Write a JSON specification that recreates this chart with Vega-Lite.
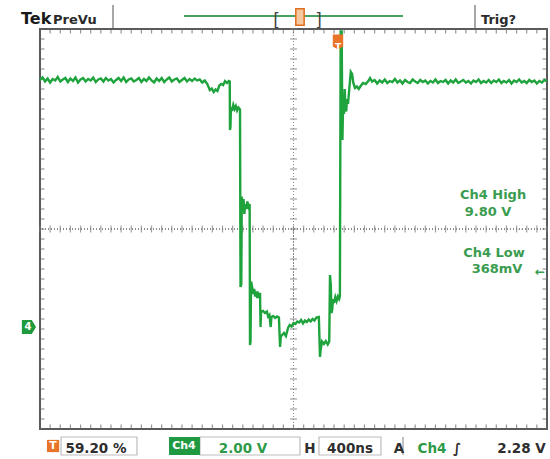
{
  "$schema": "https://vega.github.io/schema/vega-lite/v6.json",
  "width": 507,
  "height": 400,
  "autosize": {"type": "none"},
  "padding": {"left": 40, "top": 29, "right": 3, "bottom": 30},
  "background": "white",
  "config": {
    "view": {"stroke": "#5a5a5a", "strokeWidth": 2},
    "axis": {"labels": false, "ticks": false, "domain": false, "title": null},
    "text": {"font": "DejaVu Sans"}
  },
  "datasets": {
    "trace": [
      {"t":0,"v":9.96},{"t":20,"v":10.06},{"t":40,"v":9.9},{"t":60,"v":10.02},{"t":80,"v":9.86},{"t":100,"v":10.0},{"t":120,"v":9.94},{"t":140,"v":10.08},{"t":160,"v":9.9},{"t":180,"v":9.98},{"t":200,"v":10.04},{"t":220,"v":9.88},{"t":240,"v":10.02},{"t":260,"v":9.92},{"t":280,"v":10.06},{"t":300,"v":9.86},{"t":320,"v":9.98},{"t":340,"v":10.04},{"t":360,"v":9.9},{"t":380,"v":10.0},{"t":400,"v":9.94},{"t":420,"v":10.06},{"t":440,"v":9.88},{"t":460,"v":9.98},{"t":480,"v":10.02},{"t":500,"v":9.9},{"t":520,"v":10.04},{"t":540,"v":9.94},{"t":560,"v":10.0},{"t":580,"v":9.86},{"t":600,"v":9.96},{"t":620,"v":10.04},{"t":640,"v":9.92},{"t":660,"v":10.06},{"t":680,"v":9.88},{"t":700,"v":9.98},{"t":720,"v":10.02},{"t":740,"v":9.9},{"t":760,"v":9.96},{"t":780,"v":10.04},{"t":800,"v":9.88},{"t":820,"v":10.0},{"t":840,"v":9.92},{"t":860,"v":10.06},{"t":880,"v":9.94},{"t":900,"v":9.86},{"t":920,"v":10.02},{"t":940,"v":9.92},{"t":960,"v":10.04},{"t":980,"v":9.88},{"t":1000,"v":9.98},{"t":1020,"v":10.06},{"t":1040,"v":9.9},{"t":1060,"v":9.98},{"t":1080,"v":10.02},{"t":1100,"v":9.88},{"t":1120,"v":9.96},{"t":1140,"v":10.04},{"t":1160,"v":9.9},{"t":1180,"v":10.0},{"t":1200,"v":9.92},{"t":1220,"v":10.02},{"t":1240,"v":9.94},{"t":1260,"v":9.98},{"t":1280,"v":9.86},{"t":1300,"v":9.94},{"t":1320,"v":9.8},{"t":1340,"v":9.56},{"t":1355,"v":9.62},{"t":1370,"v":9.48},{"t":1385,"v":9.58},{"t":1400,"v":9.52},{"t":1415,"v":9.74},{"t":1430,"v":9.8},{"t":1445,"v":9.76},{"t":1460,"v":9.92},{"t":1475,"v":9.84},{"t":1490,"v":9.92},{"t":1497,"v":9.9},{"t":1499,"v":7.96},{"t":1503,"v":8.1},{"t":1506,"v":8.88},{"t":1515,"v":8.72},{"t":1525,"v":8.96},{"t":1535,"v":8.8},{"t":1545,"v":8.92},{"t":1555,"v":8.74},{"t":1565,"v":8.86},{"t":1575,"v":8.8},{"t":1578,"v":8.78},{"t":1582,"v":1.68},{"t":1588,"v":1.8},{"t":1592,"v":5.3},{"t":1600,"v":4.7},{"t":1606,"v":5.2},{"t":1612,"v":4.6},{"t":1620,"v":5.0},{"t":1628,"v":4.8},{"t":1636,"v":5.1},{"t":1645,"v":4.9},{"t":1654,"v":5.0},{"t":1657,"v":-0.64},{"t":1661,"v":-0.5},{"t":1665,"v":1.9},{"t":1673,"v":1.7},{"t":1681,"v":1.4},{"t":1690,"v":1.6},{"t":1698,"v":1.3},{"t":1706,"v":1.5},{"t":1714,"v":1.24},{"t":1722,"v":1.4},{"t":1730,"v":1.3},{"t":1736,"v":1.45},{"t":1740,"v":0.08},{"t":1744,"v":0.68},{"t":1760,"v":0.72},{"t":1775,"v":0.64},{"t":1790,"v":0.7},{"t":1800,"v":0.5},{"t":1810,"v":0.56},{"t":1820,"v":0.08},{"t":1826,"v":0.48},{"t":1840,"v":0.52},{"t":1855,"v":0.44},{"t":1870,"v":0.5},{"t":1885,"v":0.46},{"t":1894,"v":-0.72},{"t":1900,"v":-0.3},{"t":1910,"v":-0.24},{"t":1925,"v":-0.16},{"t":1940,"v":-0.28},{"t":1957,"v":0.04},{"t":1970,"v":0.16},{"t":1985,"v":0.1},{"t":2000,"v":0.24},{"t":2015,"v":0.2},{"t":2030,"v":0.3},{"t":2045,"v":0.26},{"t":2060,"v":0.36},{"t":2075,"v":0.22},{"t":2090,"v":0.34},{"t":2105,"v":0.28},{"t":2120,"v":0.38},{"t":2135,"v":0.3},{"t":2150,"v":0.4},{"t":2165,"v":0.34},{"t":2180,"v":0.46},{"t":2200,"v":0.48},{"t":2209,"v":-1.12},{"t":2215,"v":-0.8},{"t":2225,"v":-0.5},{"t":2240,"v":-0.6},{"t":2255,"v":-0.48},{"t":2270,"v":-0.62},{"t":2282,"v":-0.5},{"t":2288,"v":2.16},{"t":2294,"v":1.8},{"t":2300,"v":0.64},{"t":2306,"v":0.8},{"t":2312,"v":1.2},{"t":2320,"v":1.04},{"t":2330,"v":1.28},{"t":2340,"v":1.12},{"t":2350,"v":1.3},{"t":2360,"v":1.2},{"t":2366,"v":1.3},{"t":2372,"v":11.9},{"t":2380,"v":11.9},{"t":2386,"v":7.56},{"t":2392,"v":9.2},{"t":2398,"v":8.6},{"t":2404,"v":9.6},{"t":2410,"v":8.8},{"t":2416,"v":8.7},{"t":2422,"v":9.2},{"t":2430,"v":9.0},{"t":2440,"v":9.6},{"t":2452,"v":10.28},{"t":2462,"v":10.2},{"t":2472,"v":9.84},{"t":2485,"v":9.64},{"t":2500,"v":9.7},{"t":2515,"v":9.6},{"t":2530,"v":9.72},{"t":2549,"v":9.84},{"t":2570,"v":9.8},{"t":2590,"v":9.92},{"t":2604,"v":10.04},{"t":2620,"v":9.9},{"t":2640,"v":9.96},{"t":2660,"v":9.82},{"t":2680,"v":9.94},{"t":2700,"v":9.86},{"t":2720,"v":9.98},{"t":2740,"v":9.84},{"t":2760,"v":9.92},{"t":2780,"v":9.88},{"t":2800,"v":10.0},{"t":2820,"v":9.86},{"t":2840,"v":9.94},{"t":2860,"v":9.82},{"t":2880,"v":9.96},{"t":2900,"v":9.88},{"t":2920,"v":9.84},{"t":2940,"v":9.98},{"t":2960,"v":9.9},{"t":2980,"v":9.84},{"t":3000,"v":9.96},{"t":3020,"v":9.88},{"t":3040,"v":9.94},{"t":3060,"v":9.82},{"t":3080,"v":9.92},{"t":3100,"v":9.86},{"t":3120,"v":9.98},{"t":3140,"v":9.84},{"t":3160,"v":9.92},{"t":3180,"v":9.88},{"t":3200,"v":9.96},{"t":3220,"v":9.82},{"t":3240,"v":9.94},{"t":3260,"v":9.86},{"t":3280,"v":9.98},{"t":3300,"v":9.84},{"t":3320,"v":9.9},{"t":3340,"v":9.96},{"t":3360,"v":9.86},{"t":3380,"v":9.92},{"t":3400,"v":9.82},{"t":3420,"v":9.94},{"t":3440,"v":9.88},{"t":3460,"v":9.98},{"t":3480,"v":9.84},{"t":3500,"v":9.92},{"t":3520,"v":9.86},{"t":3540,"v":9.96},{"t":3560,"v":9.84},{"t":3580,"v":9.94},{"t":3600,"v":9.88},{"t":3620,"v":9.98},{"t":3640,"v":9.84},{"t":3660,"v":9.92},{"t":3680,"v":9.86},{"t":3700,"v":9.96},{"t":3720,"v":9.82},{"t":3740,"v":9.94},{"t":3760,"v":9.88},{"t":3780,"v":9.98},{"t":3800,"v":9.86},{"t":3820,"v":9.92},{"t":3840,"v":9.84},{"t":3860,"v":9.96},{"t":3880,"v":9.88},{"t":3900,"v":9.94},{"t":3920,"v":9.82},{"t":3940,"v":9.92},{"t":3960,"v":9.86},{"t":3980,"v":9.96},{"t":4000,"v":9.9}
    ],
    "xm": [{"t":0},{"t":80},{"t":160},{"t":240},{"t":320},{"t":400},{"t":480},{"t":560},{"t":640},{"t":720},{"t":800},{"t":880},{"t":960},{"t":1040},{"t":1120},{"t":1200},{"t":1280},{"t":1360},{"t":1440},{"t":1520},{"t":1600},{"t":1680},{"t":1760},{"t":1840},{"t":1920},{"t":2000},{"t":2080},{"t":2160},{"t":2240},{"t":2320},{"t":2400},{"t":2480},{"t":2560},{"t":2640},{"t":2720},{"t":2800},{"t":2880},{"t":2960},{"t":3040},{"t":3120},{"t":3200},{"t":3280},{"t":3360},{"t":3440},{"t":3520},{"t":3600},{"t":3680},{"t":3760},{"t":3840},{"t":3920},{"t":4000}],
    "ym": [{"v":-4},{"v":-3.6},{"v":-3.2},{"v":-2.8},{"v":-2.4},{"v":-2},{"v":-1.6},{"v":-1.2},{"v":-0.8},{"v":-0.4},{"v":0},{"v":0.4},{"v":0.8},{"v":1.2},{"v":1.6},{"v":2},{"v":2.4},{"v":2.8},{"v":3.2},{"v":3.6},{"v":4},{"v":4.4},{"v":4.8},{"v":5.2},{"v":5.6},{"v":6},{"v":6.4},{"v":6.8},{"v":7.2},{"v":7.6},{"v":8},{"v":8.4},{"v":8.8},{"v":9.2},{"v":9.6},{"v":10},{"v":10.4},{"v":10.8},{"v":11.2},{"v":11.6},{"v":12}]
  },
  "layer": [
    {
      "data": {"name": "xm"},
      "mark": {"type": "rule", "color": "#8a8a8a", "strokeWidth": 1, "strokeDash": [1, 2]},
      "encoding": {
        "x": {"datum": 2000, "type": "quantitative", "scale": {"domain": [0, 4000], "nice": false, "zero": false},
          "axis": {"values": [0,400,800,1200,1600,2000,2400,2800,3200,3600,4000], "grid": true, "gridDash": [2, 8], "gridColor": "#a8a8a8", "gridWidth": 1.5, "labels": false, "ticks": false, "domain": false, "title": null}},
        "y": {"datum": 4, "type": "quantitative", "scale": {"domain": [-4, 12], "nice": false, "zero": false},
          "axis": {"values": [-4,-2,0,2,4,6,8,10,12], "grid": true, "gridDash": [2, 8.14], "gridColor": "#a8a8a8", "gridWidth": 1.5, "labels": false, "ticks": false, "domain": false, "title": null}}
      }
    },
    {
      "data": {"name": "xm"},
      "mark": {"type": "rule", "color": "#8a8a8a", "strokeWidth": 1, "strokeDash": [1, 2]},
      "encoding": {
        "x": {"datum": 2000, "type": "quantitative", "scale": {"domain": [0, 4000], "nice": false, "zero": false}, "axis": null}
      }
    },
    {
      "data": {"name": "xm"},
      "mark": {"type": "rule", "color": "#8a8a8a", "strokeWidth": 1, "strokeDash": [1, 2]},
      "encoding": {
        "y": {"datum": 4, "type": "quantitative", "scale": {"domain": [-4, 12], "nice": false, "zero": false}, "axis": null}
      }
    },
    {
      "data": {"name": "xm"},
      "mark": {"type": "tick", "orient": "vertical", "size": 7, "thickness": 1.2, "color": "#7a7a7a"},
      "encoding": {
        "x": {"field": "t", "type": "quantitative", "scale": {"domain": [0, 4000], "nice": false, "zero": false}, "axis": null},
        "y": {"datum": 4, "type": "quantitative", "scale": {"domain": [-4, 12], "nice": false, "zero": false}, "axis": null}
      }
    },
    {
      "data": {"name": "ym"},
      "mark": {"type": "tick", "orient": "horizontal", "size": 7, "thickness": 1.2, "color": "#7a7a7a"},
      "encoding": {
        "y": {"field": "v", "type": "quantitative", "scale": {"domain": [-4, 12], "nice": false, "zero": false}, "axis": null},
        "x": {"datum": 2000, "type": "quantitative", "scale": {"domain": [0, 4000], "nice": false, "zero": false}, "axis": null}
      }
    },
    {
      "data": {"name": "xm"},
      "mark": {"type": "tick", "orient": "vertical", "size": 9, "thickness": 1.2, "color": "#6a6a6a", "clip": true},
      "encoding": {
        "x": {"field": "t", "type": "quantitative", "scale": {"domain": [0, 4000], "nice": false, "zero": false}, "axis": null},
        "y": {"datum": 12, "type": "quantitative", "scale": {"domain": [-4, 12], "nice": false, "zero": false}, "axis": null}
      }
    },
    {
      "data": {"name": "xm"},
      "mark": {"type": "tick", "orient": "vertical", "size": 9, "thickness": 1.2, "color": "#6a6a6a", "clip": true},
      "encoding": {
        "x": {"field": "t", "type": "quantitative", "scale": {"domain": [0, 4000], "nice": false, "zero": false}, "axis": null},
        "y": {"datum": -4, "type": "quantitative", "scale": {"domain": [-4, 12], "nice": false, "zero": false}, "axis": null}
      }
    },
    {
      "data": {"name": "ym"},
      "mark": {"type": "tick", "orient": "horizontal", "size": 9, "thickness": 1.2, "color": "#6a6a6a", "clip": true},
      "encoding": {
        "y": {"field": "v", "type": "quantitative", "scale": {"domain": [-4, 12], "nice": false, "zero": false}, "axis": null},
        "x": {"datum": 0, "type": "quantitative", "scale": {"domain": [0, 4000], "nice": false, "zero": false}, "axis": null}
      }
    },
    {
      "data": {"name": "ym"},
      "mark": {"type": "tick", "orient": "horizontal", "size": 9, "thickness": 1.2, "color": "#6a6a6a", "clip": true},
      "encoding": {
        "y": {"field": "v", "type": "quantitative", "scale": {"domain": [-4, 12], "nice": false, "zero": false}, "axis": null},
        "x": {"datum": 4000, "type": "quantitative", "scale": {"domain": [0, 4000], "nice": false, "zero": false}, "axis": null}
      }
    },
    {
      "data": {"name": "trace"},
      "mark": {"type": "line", "color": "#1fa33d", "strokeWidth": 2.4, "interpolate": "linear"},
      "encoding": {
        "x": {"field": "t", "type": "quantitative", "scale": {"domain": [0, 4000], "nice": false, "zero": false}, "axis": null},
        "y": {"field": "v", "type": "quantitative", "scale": {"domain": [-4, 12], "nice": false, "zero": false}, "axis": null}
      }
    },
    {
      "data": {"values": [{"t": 2351, "v": 11.48}]},
      "mark": {"type": "point", "shape": "M-0.7,-1 L0.7,-1 L0.7,0.6 L0,1 L-0.7,0.6 Z", "size": 220, "filled": true, "color": "#e8742a", "opacity": 1},
      "encoding": {
        "x": {"field": "t", "type": "quantitative", "scale": {"domain": [0, 4000], "nice": false, "zero": false}, "axis": null},
        "y": {"field": "v", "type": "quantitative", "scale": {"domain": [-4, 12], "nice": false, "zero": false}, "axis": null}
      }
    },
    {
      "data": {"values": [{"t": 2351, "v": 11.3, "label": "T"}]},
      "mark": {"type": "text", "color": "white", "fontSize": 9, "fontWeight": "bold", "align": "center", "baseline": "middle"},
      "encoding": {
        "x": {"field": "t", "type": "quantitative", "scale": {"domain": [0, 4000], "nice": false, "zero": false}, "axis": null},
        "y": {"field": "v", "type": "quantitative", "scale": {"domain": [-4, 12], "nice": false, "zero": false}, "axis": null},
        "text": {"field": "label"}
      }
    },
    {
      "data": {"values": [{"t": -87, "v": 0.08}]},
      "mark": {"type": "point", "shape": "M-1,-1 L0.4,-1 L1,0 L0.4,1 L-1,1 Z", "size": 200, "filled": true, "color": "#1f9a3c", "opacity": 1},
      "encoding": {
        "x": {"field": "t", "type": "quantitative", "scale": {"domain": [0, 4000], "nice": false, "zero": false}, "axis": null},
        "y": {"field": "v", "type": "quantitative", "scale": {"domain": [-4, 12], "nice": false, "zero": false}, "axis": null}
      }
    },
    {
      "data": {"values": [{"t": -95, "v": 0.08, "label": "4"}]},
      "mark": {"type": "text", "color": "white", "fontSize": 10, "fontWeight": "bold", "align": "center", "baseline": "middle"},
      "encoding": {
        "x": {"field": "t", "type": "quantitative", "scale": {"domain": [0, 4000], "nice": false, "zero": false}, "axis": null},
        "y": {"field": "v", "type": "quantitative", "scale": {"domain": [-4, 12], "nice": false, "zero": false}, "axis": null},
        "text": {"field": "label"}
      }
    },
    {
      "data": {"values": [
        {"t": 3574, "v": 5.2, "label": "Ch4 High"},
        {"t": 3535, "v": 4.52, "label": "9.80 V"},
        {"t": 3582, "v": 2.88, "label": "Ch4 Low"},
        {"t": 3606, "v": 2.24, "label": "368mV"}
      ]},
      "mark": {"type": "text", "color": "#3a9c50", "fontSize": 13, "fontWeight": "bold", "align": "center", "baseline": "alphabetic"},
      "encoding": {
        "x": {"field": "t", "type": "quantitative", "scale": {"domain": [0, 4000], "nice": false, "zero": false}, "axis": null},
        "y": {"field": "v", "type": "quantitative", "scale": {"domain": [-4, 12], "nice": false, "zero": false}, "axis": null},
        "text": {"field": "label"}
      }
    },
    {
      "data": {"values": [{"t": 3945, "v": 2.3, "label": "←"}]},
      "mark": {"type": "text", "color": "#3a9c50", "fontSize": 12, "fontWeight": "bold", "align": "center", "baseline": "middle"},
      "encoding": {
        "x": {"field": "t", "type": "quantitative", "scale": {"domain": [0, 4000], "nice": false, "zero": false}, "axis": null},
        "y": {"field": "v", "type": "quantitative", "scale": {"domain": [-4, 12], "nice": false, "zero": false}, "axis": null},
        "text": {"field": "label"}
      }
    },
    {
      "data": {"values": [{"t": -150, "v": 12.2, "label": "Tek"}]},
      "mark": {"type": "text", "color": "#1a1a1a", "fontSize": 16, "fontWeight": "bold", "align": "left", "baseline": "alphabetic"},
      "encoding": {
        "x": {"field": "t", "type": "quantitative", "scale": {"domain": [0, 4000], "nice": false, "zero": false}, "axis": null},
        "y": {"field": "v", "type": "quantitative", "scale": {"domain": [-4, 12], "nice": false, "zero": false}, "axis": null},
        "text": {"field": "label"}
      }
    },
    {
      "data": {"values": [{"t": 103, "v": 12.2, "label": "PreVu"}, {"t": 3479, "v": 12.2, "label": "Trig?"}]},
      "mark": {"type": "text", "color": "#2a2a2a", "fontSize": 13, "fontWeight": "bold", "align": "left", "baseline": "alphabetic"},
      "encoding": {
        "x": {"field": "t", "type": "quantitative", "scale": {"domain": [0, 4000], "nice": false, "zero": false}, "axis": null},
        "y": {"field": "v", "type": "quantitative", "scale": {"domain": [-4, 12], "nice": false, "zero": false}, "axis": null},
        "text": {"field": "label"}
      }
    },
    {
      "data": {"values": [{"t": 576, "v": 12.96, "v2": 12.04}, {"t": 3432, "v": 12.96, "v2": 12.04}]},
      "mark": {"type": "rule", "color": "#8a8a8a", "strokeWidth": 1.5},
      "encoding": {
        "x": {"field": "t", "type": "quantitative", "scale": {"domain": [0, 4000], "nice": false, "zero": false}, "axis": null},
        "y": {"field": "v", "type": "quantitative", "scale": {"domain": [-4, 12], "nice": false, "zero": false}, "axis": null},
        "y2": {"field": "v2"}
      }
    },
    {
      "data": {"values": [{"t": 1136, "t2": 2864, "v": 12.52}]},
      "mark": {"type": "rule", "color": "#4aa060", "strokeWidth": 2},
      "encoding": {
        "x": {"field": "t", "type": "quantitative", "scale": {"domain": [0, 4000], "nice": false, "zero": false}, "axis": null},
        "x2": {"field": "t2"},
        "y": {"field": "v", "type": "quantitative", "scale": {"domain": [-4, 12], "nice": false, "zero": false}, "axis": null}
      }
    },
    {
      "data": {"values": [{"t": 1866, "v": 12.14, "label": "["}, {"t": 2197, "v": 12.14, "label": "]"}]},
      "mark": {"type": "text", "color": "#444444", "fontSize": 17, "align": "center", "baseline": "alphabetic"},
      "encoding": {
        "x": {"field": "t", "type": "quantitative", "scale": {"domain": [0, 4000], "nice": false, "zero": false}, "axis": null},
        "y": {"field": "v", "type": "quantitative", "scale": {"domain": [-4, 12], "nice": false, "zero": false}, "axis": null},
        "text": {"field": "label"}
      }
    },
    {
      "data": {"values": [{"t": 2051, "v": 12.48}]},
      "mark": {"type": "point", "shape": "M-0.5,-1 L0.5,-1 L0.5,1 L-0.5,1 Z", "size": 280, "filled": true, "color": "#f6c8a0", "stroke": "#e06e20", "strokeWidth": 1.5, "opacity": 1},
      "encoding": {
        "x": {"field": "t", "type": "quantitative", "scale": {"domain": [0, 4000], "nice": false, "zero": false}, "axis": null},
        "y": {"field": "v", "type": "quantitative", "scale": {"domain": [-4, 12], "nice": false, "zero": false}, "axis": null}
      }
    },
    {
      "data": {"values": [
        {"t": 166, "t2": 765, "v": -4.32, "v2": -5.04},
        {"t": 1262, "t2": 2051, "v": -4.32, "v2": -5.04},
        {"t": 2201, "t2": 2690, "v": -4.32, "v2": -5.04}
      ]},
      "mark": {"type": "rect", "fill": "white", "stroke": "#bdbdbd", "strokeWidth": 1.2},
      "encoding": {
        "x": {"field": "t", "type": "quantitative", "scale": {"domain": [0, 4000], "nice": false, "zero": false}, "axis": null},
        "x2": {"field": "t2"},
        "y": {"field": "v", "type": "quantitative", "scale": {"domain": [-4, 12], "nice": false, "zero": false}, "axis": null},
        "y2": {"field": "v2"}
      }
    },
    {
      "data": {"values": [{"t": 1018, "t2": 1262, "v": -4.32, "v2": -5.04}]},
      "mark": {"type": "rect", "fill": "#1f9a42"},
      "encoding": {
        "x": {"field": "t", "type": "quantitative", "scale": {"domain": [0, 4000], "nice": false, "zero": false}, "axis": null},
        "x2": {"field": "t2"},
        "y": {"field": "v", "type": "quantitative", "scale": {"domain": [-4, 12], "nice": false, "zero": false}, "axis": null},
        "y2": {"field": "v2"}
      }
    },
    {
      "data": {"values": [{"t": 2864, "v": -4.32, "v2": -5.04}]},
      "mark": {"type": "rule", "color": "#9a9a9a", "strokeWidth": 1.2},
      "encoding": {
        "x": {"field": "t", "type": "quantitative", "scale": {"domain": [0, 4000], "nice": false, "zero": false}, "axis": null},
        "y": {"field": "v", "type": "quantitative", "scale": {"domain": [-4, 12], "nice": false, "zero": false}, "axis": null},
        "y2": {"field": "v2"}
      }
    },
    {
      "data": {"values": [{"t": 103, "v": -4.68}]},
      "mark": {"type": "point", "shape": "square", "size": 150, "filled": true, "color": "#e8742a", "opacity": 1},
      "encoding": {
        "x": {"field": "t", "type": "quantitative", "scale": {"domain": [0, 4000], "nice": false, "zero": false}, "axis": null},
        "y": {"field": "v", "type": "quantitative", "scale": {"domain": [-4, 12], "nice": false, "zero": false}, "axis": null}
      }
    },
    {
      "data": {"values": [{"t": 103, "v": -4.68, "label": "T"}, {"t": 1136, "v": -4.68, "label": "Ch4"}]},
      "mark": {"type": "text", "color": "white", "fontSize": 11, "fontWeight": "bold", "align": "center", "baseline": "middle"},
      "encoding": {
        "x": {"field": "t", "type": "quantitative", "scale": {"domain": [0, 4000], "nice": false, "zero": false}, "axis": null},
        "y": {"field": "v", "type": "quantitative", "scale": {"domain": [-4, 12], "nice": false, "zero": false}, "axis": null},
        "text": {"field": "label"}
      }
    },
    {
      "data": {"values": [
        {"t": 442, "v": -4.96, "label": "59.20 %"},
        {"t": 2130, "v": -4.96, "label": "H"},
        {"t": 2446, "v": -4.96, "label": "400ns"},
        {"t": 2832, "v": -4.96, "label": "A"},
        {"t": 3290, "v": -4.96, "label": "∫"},
        {"t": 3799, "v": -4.96, "label": "2.28 V"}
      ]},
      "mark": {"type": "text", "color": "#2e2e2e", "fontSize": 13.5, "fontWeight": "bold", "align": "center", "baseline": "alphabetic"},
      "encoding": {
        "x": {"field": "t", "type": "quantitative", "scale": {"domain": [0, 4000], "nice": false, "zero": false}, "axis": null},
        "y": {"field": "v", "type": "quantitative", "scale": {"domain": [-4, 12], "nice": false, "zero": false}, "axis": null},
        "text": {"field": "label"}
      }
    },
    {
      "data": {"values": [
        {"t": 1602, "v": -4.96, "label": "2.00 V"},
        {"t": 3093, "v": -4.96, "label": "Ch4"}
      ]},
      "mark": {"type": "text", "color": "#2e9a48", "fontSize": 13.5, "fontWeight": "bold", "align": "center", "baseline": "alphabetic"},
      "encoding": {
        "x": {"field": "t", "type": "quantitative", "scale": {"domain": [0, 4000], "nice": false, "zero": false}, "axis": null},
        "y": {"field": "v", "type": "quantitative", "scale": {"domain": [-4, 12], "nice": false, "zero": false}, "axis": null},
        "text": {"field": "label"}
      }
    }
  ]
}
